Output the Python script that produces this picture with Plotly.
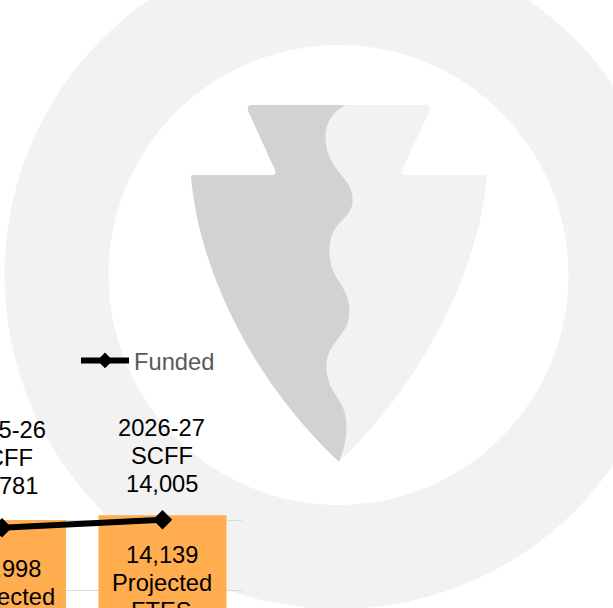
import plotly.graph_objects as go

categories = ["2025-26", "2026-27"]
funded = [13781, 14005]
projected = [13998, 14139]
funded_labels = [["2025-26", "SCFF", "13,781"], ["2026-27", "SCFF", "14,005"]]
projected_labels = [["13,998", "Projected", "FTES"], ["14,139", "Projected", "FTES"]]
tick_values = [12000, 14000, 16000]

W, H = 613, 608
FONT = "Liberation Sans"
PX_PER_UNIT = 70 / 2000
PX_PER_CAT = 160.5


def px(x):
    return x / W


def py(y):
    return 1 - y / H


def path(segments):
    out = []
    for cmd, pts in segments:
        coords = " ".join(f"{px(x):.5f},{py(y):.5f}" for x, y in pts)
        out.append(f"{cmd}{coords}")
    return " ".join(out) + " Z"


wave = [
    ("C", [(333, 112), (325.5, 122), (325.5, 137)]),
    ("C", [(325.5, 152), (332, 163), (338, 171)]),
    ("C", [(346, 181), (352.7, 187), (352.7, 200)]),
    ("C", [(352.7, 213), (344, 217), (337, 226)]),
    ("C", [(332, 233), (329.5, 240), (329.5, 251)]),
    ("C", [(329.5, 263), (333, 272), (338, 280)]),
    ("C", [(344, 289), (349.5, 297), (349.5, 312)]),
    ("C", [(349.5, 325), (343, 332), (337, 340)]),
    ("C", [(331, 348), (326.5, 355), (326.5, 366)]),
    ("C", [(326.5, 378), (330, 386), (335, 394)]),
    ("C", [(341, 403), (346.5, 410), (346.5, 427)]),
    ("C", [(346.5, 442), (343, 452), (339, 462)]),
]

left_half = path([
    ("M", [(345.7, 105)]),
    *wave,
    ("C", [(252, 380), (199, 270), (191, 177)]),
    ("Q", [(191, 175), (193, 175)]),
    ("L", [(271, 175)]),
    ("Q", [(277, 175), (275, 170)]),
    ("L", [(248, 111)]),
    ("Q", [(246.5, 105), (252, 105)]),
])

right_half = path([
    ("M", [(345.7, 105)]),
    *wave,
    ("C", [(425, 380), (478, 270), (487, 177)]),
    ("Q", [(487, 175), (485, 175)]),
    ("L", [(407, 175)]),
    ("Q", [(400, 175), (402, 170)]),
    ("L", [(429.5, 111)]),
    ("Q", [(431, 105), (425, 105)]),
])


def circle(cx, cy, r, color):
    return dict(type="circle", xref="paper", yref="paper", layer="below",
                x0=px(cx - r), x1=px(cx + r), y0=py(cy + r), y1=py(cy - r),
                fillcolor=color, line=dict(width=0))


shapes = [
    circle(338.5, 275, 334, "#F2F2F2"),
    circle(338.5, 275, 230, "#FFFFFF"),
    dict(type="path", xref="paper", yref="paper", layer="below", path=right_half,
         fillcolor="#F2F2F2", line=dict(width=0)),
    dict(type="path", xref="paper", yref="paper", layer="below", path=left_half,
         fillcolor="#D2D2D2", line=dict(width=0)),
]

fig = go.Figure()
fig.add_bar(x=categories, y=projected, width=128 / PX_PER_CAT, marker=dict(color="#FFAD4F", line=dict(width=0)),
            showlegend=False, hoverinfo="skip")
fig.add_scatter(x=categories, y=funded, mode="lines+markers", showlegend=False, cliponaxis=False,
                line=dict(color="#000000", width=6),
                marker=dict(symbol="diamond", size=15, color="#000000"))
fig.add_scatter(x=[None], y=[None], mode="lines+markers", name="Funded",
                line=dict(color="#000000", width=6),
                marker=dict(symbol="diamond", size=12, color="#000000"))

annotations = []
funded_first_line_px = [98, 92]
projected_first_line_px = [-49, -40]
funded_xshift = [0, -1]
projected_xshift = [2.5, -1]
for i, cat in enumerate(categories):
    for j, text in enumerate(funded_labels[i]):
        annotations.append(dict(x=cat, y=funded[i], xref="x", yref="y", text=text, showarrow=False,
                                xshift=funded_xshift[i],
                                yshift=funded_first_line_px[i] - 28 * j,
                                font=dict(family=FONT, size=23.7, color="#000000")))
    for j, text in enumerate(projected_labels[i]):
        annotations.append(dict(x=cat, y=projected[i], xref="x", yref="y", text=text, showarrow=False,
                                xshift=projected_xshift[i],
                                yshift=projected_first_line_px[i] - 28 * j,
                                font=dict(family=FONT, size=23.7, color="#000000")))

# Axis spans: x pixels 0..242 with categories centred at 2 and 162.5
x_lo = -2 / PX_PER_CAT
x_hi = (242 - 2) / PX_PER_CAT
y_bottom = 14000 - (608 - 520) / PX_PER_UNIT

fig.update_layout(
    width=W, height=H,
    margin=dict(l=0, r=0, t=0, b=0),
    paper_bgcolor="rgba(0,0,0,0)",
    plot_bgcolor="rgba(0,0,0,0)",
    shapes=shapes,
    annotations=annotations,
    showlegend=True,
    legend=dict(x=76 / W, y=py(360.5), xanchor="left", yanchor="middle", bgcolor="rgba(0,0,0,0)",
                itemwidth=48, font=dict(family=FONT, size=23.7, color="#595959")),
    xaxis=dict(domain=[0, 242 / W], range=[x_lo, x_hi], type="category",
               categoryorder="array", categoryarray=categories, showgrid=False,
               showticklabels=False, ticks="", zeroline=False, showline=False),
    yaxis=dict(domain=[0, py(450)], range=[y_bottom, 16000], tickvals=tick_values,
               showticklabels=False, ticks="", showgrid=True, gridcolor="#D9D9D9", gridwidth=1,
               zeroline=False, showline=False),
)

fig.write_html("out.html", config=dict(displayModeBar=False),
               post_script="document.body.style.margin='0';document.body.style.overflow='hidden';")
